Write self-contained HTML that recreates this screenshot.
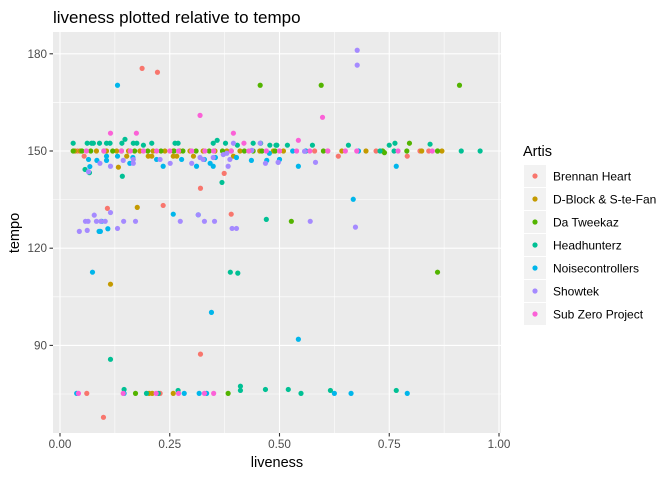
<!DOCTYPE html>
<html><head><meta charset="utf-8"><style>
body{margin:0;background:#fff;font-family:"Liberation Sans",Arial,sans-serif;}
svg text{font-family:"Liberation Sans",Arial,sans-serif;}
</style></head><body>
<svg id="chart" width="672" height="480" xmlns="http://www.w3.org/2000/svg">
<rect width="672" height="480" fill="#fff"/>
<text x="53" y="23" font-size="17" fill="#000">liveness plotted relative to tempo</text>
<rect x="53" y="32" width="448" height="401" fill="#EBEBEB"/>
<g id="grid"></g><g id="axes"></g><g id="points"></g>
<text x="277" y="467" font-size="14.5" text-anchor="middle" fill="#000">liveness</text>
<text transform="translate(19,233) rotate(-90)" font-size="14.5" text-anchor="middle" fill="#000">tempo</text>
<text x="523" y="156" font-size="14.5" fill="#000">Artis</text>
<g id="legend"></g>
</svg>
<script>
const seriesNames=["Brennan Heart","D-Block & S-te-Fan","Da Tweekaz","Headhunterz","Noisecontrollers","Showtek","Sub Zero Project"];
const seriesColors=["#F8766D","#C49A00","#53B400","#00C094","#00B6EB","#A58AFF","#FB61D7"];
const xTicks=[0,0.25,0.5,0.75,1];
const xTickLabels=["0.00","0.25","0.50","0.75","1.00"];
const yTicks=[90,120,150,180];
const yTickLabels=["90","120","150","180"];
const brennanLive=[0.187,0.222,0.055,0.374,0.32,0.634,0.791,0.108,0.235,0.39,0.32,0.099,0.061,0.228,0.04,0.56,0.58,0.61,0.72,0.82,0.84];
const brennanTempo=[175.5,174.3,148.4,143.1,138.5,148.4,148.4,132.3,133.2,130.5,87.3,67.8,75.2,75.2,150,150,150,150,150,150,150];
const dblockLive=[0.034,0.046,0.083,0.106,0.129,0.156,0.182,0.212,0.239,0.258,0.273,0.296,0.326,0.353,0.38,0.41,0.455,0.486,0.509,0.642,0.697,0.824,0.86,0.87,0.133,0.152,0.201,0.209,0.258,0.266,0.304,0.395,0.176,0.115,0.203,0.21,0.258];
const dblockTempo=[150,150,150,150,150,150,150,150,150,150,150,150,150,150,150,150,150,150,150,150,150,150,150,150,145,148.4,148.4,148.4,148.4,148.4,148.4,148.4,132.6,108.9,75.2,75.2,75.2];
const tweekazLive=[0.03,0.05,0.07,0.1,0.12,0.14,0.17,0.2,0.23,0.26,0.28,0.31,0.34,0.37,0.39,0.42,0.44,0.46,0.49,0.6,0.735,0.79,0.86,0.739,0.796,0.456,0.595,0.91,0.527,0.86,0.172,0.383];
const tweekazTempo=[150,150,150,150,150,150,150,150,150,150,150,150,150,150,150,150,150,150,150,150,150,150,150,149.5,152.4,170.3,170.3,170.3,128.3,112.6,75.2,75.2];
const headLive=[0.03,0.062,0.072,0.076,0.09,0.106,0.114,0.141,0.148,0.167,0.175,0.19,0.209,0.262,0.269,0.349,0.358,0.377,0.404,0.44,0.457,0.478,0.494,0.518,0.492,0.575,0.657,0.75,0.763,0.843,0.914,0.957,0.729,0.761,0.057,0.067,0.142,0.369,0.47,0.388,0.405,0.115,0.146,0.197,0.224,0.269,0.411,0.411,0.468,0.52,0.549,0.616,0.766];
const headTempo=[152.4,152.4,152.4,152.4,152.4,152.4,152.4,152.4,153.6,152.4,152.4,151.8,152.4,152.4,152.4,152.4,153.3,152.4,151.8,152.4,152.4,151.8,151.8,151.8,151.8,151.8,151.8,151.8,152.4,152.1,150,150,150,150,144.3,143.3,142.2,140.3,128.9,112.6,112.3,85.7,76.4,75.2,75.2,76.1,77.4,76.1,76.4,76.4,75.2,76.1,76.1];
const noiseLive=[0.131,0.345,0.543,0.074,0.668,0.258,0.315,0.089,0.092,0.095,0.109,0.065,0.068,0.084,0.106,0.106,0.131,0.159,0.166,0.22,0.235,0.277,0.311,0.329,0.342,0.349,0.354,0.402,0.436,0.471,0.477,0.5,0.543,0.5,0.766,0.68,0.56,0.53,0.038,0.146,0.283,0.317,0.334,0.625,0.663,0.791];
const noiseTempo=[170.3,100.2,91.9,112.6,135.1,130.5,130.3,125.2,125.2,128.3,126,147.4,145.2,147.1,147.1,148.4,148.4,146.2,148,147.4,145.3,147.4,145.3,147.4,146.2,145.3,148,148,147.1,147.1,149.3,147.4,145.3,147.4,145.3,150,150,150,75.2,75.2,75.2,75.2,75.2,75.2,75.2,75.2];
const showLive=[0.677,0.677,0.044,0.062,0.058,0.064,0.078,0.083,0.093,0.103,0.115,0.131,0.145,0.172,0.274,0.315,0.329,0.352,0.392,0.402,0.57,0.673,0.065,0.091,0.115,0.144,0.167,0.167,0.228,0.251,0.3,0.319,0.326,0.349,0.372,0.38,0.387,0.383,0.395,0.437,0.456,0.468,0.497,0.497,0.582,0.557];
const showTempo=[181.1,176.5,125.2,125.5,128.3,128.3,130.2,128.3,128.3,128.3,131,126.1,128.3,128.3,128.3,130.3,128.3,128.3,126.1,126.1,128.3,126.5,143.6,146.2,145.3,147.1,147.4,146.2,147.4,146.2,146.2,148,147.4,148,148.9,149.3,147.4,145.3,152.4,150.2,152.4,146.2,146.5,146.5,146.5,149.9];
const subLive=[0.319,0.598,0.115,0.174,0.395,0.419,0.543,0.06,0.1,0.14,0.16,0.19,0.22,0.25,0.27,0.3,0.33,0.35,0.39,0.43,0.47,0.5,0.539,0.569,0.61,0.65,0.676,0.77,0.848,0.042,0.144,0.219,0.27,0.329,0.35];
const subTempo=[161,160.4,155.5,155.5,155.5,152.4,153.3,150,150,150,150,150,150,150,150,150,150,150,150,150,150,150,150,150,150,150,150,150,150,75.2,75.2,75.2,75.2,75.2,75.2];
const seriesLive=[brennanLive,dblockLive,tweekazLive,headLive,noiseLive,showLive,subLive];
const seriesTempo=[brennanTempo,dblockTempo,tweekazTempo,headTempo,noiseTempo,showTempo,subTempo];

const NS="http://www.w3.org/2000/svg";
const PL=53,PR=501,PT=32,PB=433;
function xs(v){return 60+v*439;}
function ys(v){return 151-(v-150)*3.24;}
function mk(tag,attrs,parent){const e=document.createElementNS(NS,tag);for(const k in attrs)e.setAttribute(k,attrs[k]);parent.appendChild(e);return e;}
const grid=document.getElementById('grid'),axes=document.getElementById('axes');
for(let i=0;i<xTicks.length-1;i++){const m=(xTicks[i]+xTicks[i+1])/2;const l=mk('line',{x1:xs(m),x2:xs(m),y1:PT,y2:PB,stroke:'#fff','stroke-width':0.55},grid);

}
for(let i=0;i<yTicks.length;i++){const m=yTicks[i]-15;const l=mk('line',{x1:PL,x2:PR,y1:ys(m),y2:ys(m),stroke:'#fff','stroke-width':0.55},grid);

}
{const l=mk('line',{x1:PL,x2:PR,y1:ys(165),y2:ys(165),stroke:'#fff','stroke-width':0.55},grid);

}
xTicks.forEach((t,i)=>{
 const l=mk('line',{x1:xs(t),x2:xs(t),y1:PT,y2:PB,stroke:'#fff','stroke-width':1.1},grid);
 
 
 const tk=mk('line',{x1:xs(t),x2:xs(t),y1:PB,y2:PB+3.5,stroke:'#333','stroke-width':1.1},axes);
 
 
 const tx=mk('text',{x:xs(t),y:PB+15,'font-size':11.7,'text-anchor':'middle',fill:'#4D4D4D'},axes);
 tx.textContent=xTickLabels[i];
 
 
});
yTicks.forEach((t,i)=>{
 const l=mk('line',{x1:PL,x2:PR,y1:ys(t),y2:ys(t),stroke:'#fff','stroke-width':1.1},grid);
 
 
 const tk=mk('line',{x1:PL-3.5,x2:PL,y1:ys(t),y2:ys(t),stroke:'#333','stroke-width':1.1},axes);
 
 
 const tx=mk('text',{x:PL-6,y:ys(t)+4,'font-size':11.7,'text-anchor':'end',fill:'#4D4D4D'},axes);
 tx.textContent=yTickLabels[i];
 
 
});
const pts=document.getElementById('points');
seriesLive.forEach((arr,s)=>{arr.forEach((v,i)=>{
 const c=mk('circle',{cx:xs(v),cy:ys(seriesTempo[s][i]),r:2.6,fill:seriesColors[s]},pts);
 
 
});});
const lg=document.getElementById('legend');
seriesNames.forEach((n,i)=>{
 const y=165+i*23;
 const r=mk('rect',{x:524,y:y,width:22,height:22,fill:'#F2F2F2'},lg);
 
 
 const c=mk('circle',{cx:535,cy:y+11,r:2.6,fill:seriesColors[i]},lg);
 
 
 const t=mk('text',{x:553,y:y+15.5,'font-size':12,fill:'#000'},lg);
 t.textContent=n;
 
 
});
</script>
</body></html>
